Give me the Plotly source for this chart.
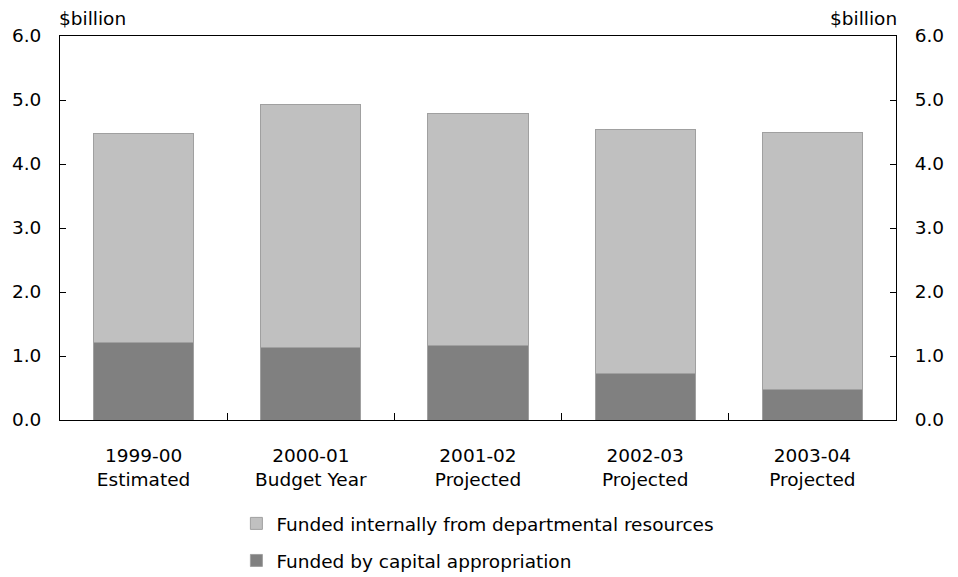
import plotly.graph_objects as go

categories = ["1999-00<br>Estimated", "2000-01<br>Budget Year", "2001-02<br>Projected",
              "2002-03<br>Projected", "2003-04<br>Projected"]
capital = [1.21, 1.14, 1.17, 0.73, 0.47]
internal = [3.26, 3.79, 3.62, 3.81, 4.02]
y_ticks = [0, 1, 2, 3, 4, 5, 6]
y_tick_text = ["0.0", "1.0", "2.0", "3.0", "4.0", "5.0", "6.0"]

FONT = "DejaVu Sans"
FS = 18.5

fig = go.Figure()
fig.add_trace(go.Bar(x=categories, y=capital, name="Funded by capital appropriation",
                     marker=dict(color="#808080", line=dict(color="#a0a0a0", width=1)),
                     legendrank=2, legendgroup="b"))
fig.add_trace(go.Bar(x=categories, y=internal, name="Funded internally from departmental resources",
                     marker=dict(color="#c0c0c0", line=dict(color="#a0a0a0", width=1)),
                     legendrank=1, legendgroup="a"))
# invisible trace for right axis
fig.add_trace(go.Scatter(x=categories, y=capital, yaxis="y2", mode="markers",
                         marker=dict(opacity=0), showlegend=False, hoverinfo="skip"))

fig.update_layout(
    width=958, height=577,
    margin=dict(l=60, r=62, t=36, b=157, autoexpand=False),
    barmode="stack", bargap=0.4,
    plot_bgcolor="white", paper_bgcolor="white",
    font=dict(family=FONT, size=FS, color="black"),
    xaxis=dict(showline=True, linecolor="black", linewidth=1, mirror=True,
               ticks="inside", tickson="boundaries", ticklen=7, tickcolor="black",
               ticklabelstandoff=19, tickfont=dict(size=FS)),
    yaxis=dict(range=[0, 6], tickvals=y_ticks, ticktext=y_tick_text, showgrid=False,
               showline=True, linecolor="black", linewidth=1, zeroline=False,
               ticks="inside", ticklen=6, tickcolor="black", ticklabelstandoff=14),
    yaxis2=dict(range=[0, 6], tickvals=y_ticks, ticktext=y_tick_text, showgrid=False,
                overlaying="y", side="right", showline=True, linecolor="black", linewidth=1,
                zeroline=False, ticks="inside", ticklen=6, tickcolor="black",
                ticklabelstandoff=14),
    legend=dict(orientation="v", x=0.211, y=0.125, xanchor="left", yanchor="top",
                yref="container",
                traceorder="grouped", tracegroupgap=10,
                font=dict(size=FS), bgcolor="rgba(0,0,0,0)"),
    annotations=[
        dict(text="$billion", x=0, y=1, xref="paper", yref="paper", xanchor="left",
             yanchor="bottom", showarrow=False, yshift=5, xshift=-3, font=dict(size=FS)),
        dict(text="$billion", x=1, y=1, xref="paper", yref="paper", xanchor="right",
             yanchor="bottom", showarrow=False, yshift=5, xshift=3, font=dict(size=FS)),
    ],
)

fig.write_html("out.html")
